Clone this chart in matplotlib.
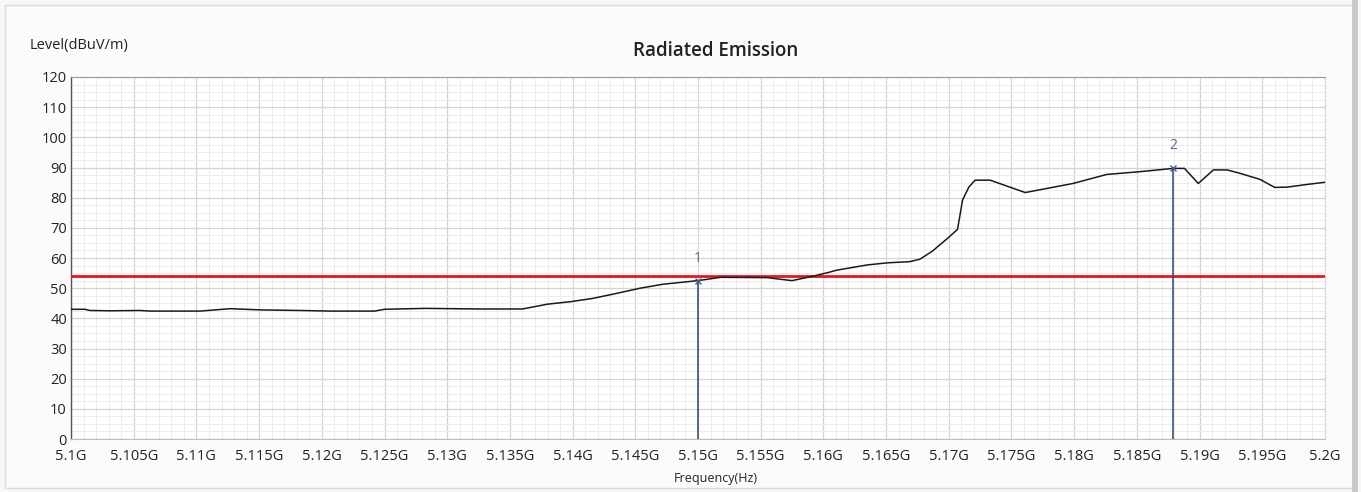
import matplotlib
matplotlib.use("Agg")
import matplotlib.pyplot as plt
from matplotlib.ticker import MultipleLocator

plt.rcParams['font.family'] = ['Open Sans', 'DejaVu Sans']

# Trace: frequency (GHz) and level (dBuV/m)
freq_ghz = [5.1000, 5.1011, 5.1015, 5.1031, 5.1055, 5.1063, 5.1103, 5.1127,
            5.1151, 5.1183, 5.1207, 5.1230, 5.1242, 5.1250, 5.1282, 5.1326,
            5.1360, 5.1380, 5.1398, 5.1416, 5.1432, 5.1454, 5.1472, 5.1500,
            5.1518, 5.1555, 5.1575, 5.1592, 5.1603, 5.1611, 5.1635, 5.1651,
            5.1669, 5.1677, 5.1687, 5.1699, 5.1707, 5.1711, 5.1716, 5.1721,
            5.1733, 5.1761, 5.1799, 5.1826, 5.1852, 5.1879, 5.1888, 5.1899,
            5.1911, 5.1922, 5.1932, 5.1948, 5.1960, 5.1970, 5.1986, 5.2000]
level = [43.0, 43.0, 42.6, 42.5, 42.6, 42.4, 42.4, 43.2,
         42.8, 42.6, 42.4, 42.4, 42.4, 43.0, 43.3, 43.1,
         43.1, 44.7, 45.5, 46.6, 48.0, 50.0, 51.3, 52.5,
         53.6, 53.5, 52.5, 54.0, 55.1, 56.0, 57.7, 58.4,
         58.8, 59.6, 62.3, 66.5, 69.5, 79.2, 83.5, 85.8,
         85.8, 81.7, 84.7, 87.7, 88.6, 89.7, 89.7, 84.7,
         89.2, 89.2, 88.1, 86.1, 83.4, 83.5, 84.4, 85.1]

limit_level = 54.0

marker_ids = ["1", "2"]
marker_freq = [5.1500, 5.1879]
marker_level = [52.5, 89.7]

x_ticks = [5.100, 5.105, 5.110, 5.115, 5.120, 5.125, 5.130, 5.135, 5.140,
           5.145, 5.150, 5.155, 5.160, 5.165, 5.170, 5.175, 5.180, 5.185,
           5.190, 5.195, 5.200]
x_tick_labels = ["5.1G", "5.105G", "5.11G", "5.115G", "5.12G", "5.125G",
                 "5.13G", "5.135G", "5.14G", "5.145G", "5.15G", "5.155G",
                 "5.16G", "5.165G", "5.17G", "5.175G", "5.18G", "5.185G",
                 "5.19G", "5.195G", "5.2G"]
y_ticks = list(range(0, 121, 10))

fig = plt.figure(figsize=(13.61, 4.92), dpi=100, facecolor="#f8f8f8")
# outer panel frame
fig.patches.append(plt.Rectangle((0.004, 0.008), 0.991, 0.982, transform=fig.transFigure,
                                 facecolor="#fbfbfb", edgecolor="#dcdcdc", lw=1.0, zorder=-5))
fig.patches.append(plt.Rectangle((0.9935, 0.0), 0.004, 1.0, transform=fig.transFigure,
                                 facecolor="#c9c9c9", edgecolor="none", zorder=-4))

ax = fig.add_axes([0.0522, 0.1077, 0.9213, 0.7358])
ax.set_facecolor("white")

ax.set_xlim(5.1, 5.2)
ax.set_ylim(0, 120)
ax.set_xticks(x_ticks)
ax.set_xticklabels(x_tick_labels)
ax.set_yticks(y_ticks)
ax.xaxis.set_minor_locator(MultipleLocator(0.001))
ax.yaxis.set_minor_locator(MultipleLocator(2.5))

ax.grid(which="major", color="#d4d4d4", lw=0.9)
ax.grid(which="minor", color="#ededed", lw=0.7)
ax.set_axisbelow(True)

ax.tick_params(which="both", length=0, labelsize=10.5, colors="#222222")
ax.tick_params(axis="x", pad=7)
ax.tick_params(axis="y", pad=3)

ax.spines["left"].set_color("#555555")
ax.spines["left"].set_linewidth(1.0)
ax.spines["bottom"].set_color("#bdbdbd")
ax.spines["top"].set_color("#9a9a9a")
ax.spines["right"].set_color("#d8d8d8")

# limit line
ax.axhline(limit_level, color="#e8161b", lw=2.0, zorder=3)

# measured trace
ax.plot(freq_ghz, level, color="#1a1a1a", lw=1.1, zorder=4)

# markers
for mid, mf, ml in zip(marker_ids, marker_freq, marker_level):
    ax.plot([mf, mf], [0, ml], color="#27476e", lw=1.1, zorder=5)
    ax.plot([mf], [ml], marker="x", ms=4, mew=1.0, color="#3a5a8c", zorder=6)
    ax.text(mf, ml + 5, mid, ha="center", va="bottom", fontsize=10, color="#4a6c99")

fig.text(0.526, 0.896, "Radiated Emission", ha="center", va="center",
         fontsize=13.5, fontweight="semibold", color="#222222")
fig.text(0.022, 0.907, "Level(dBuV/m)", ha="left", va="center", fontsize=10.5, color="#222222")
fig.text(0.526, 0.028, "Frequency(Hz)", ha="center", va="center", fontsize=9, color="#222222")

fig.savefig("out.png", dpi=100, facecolor=fig.get_facecolor())
